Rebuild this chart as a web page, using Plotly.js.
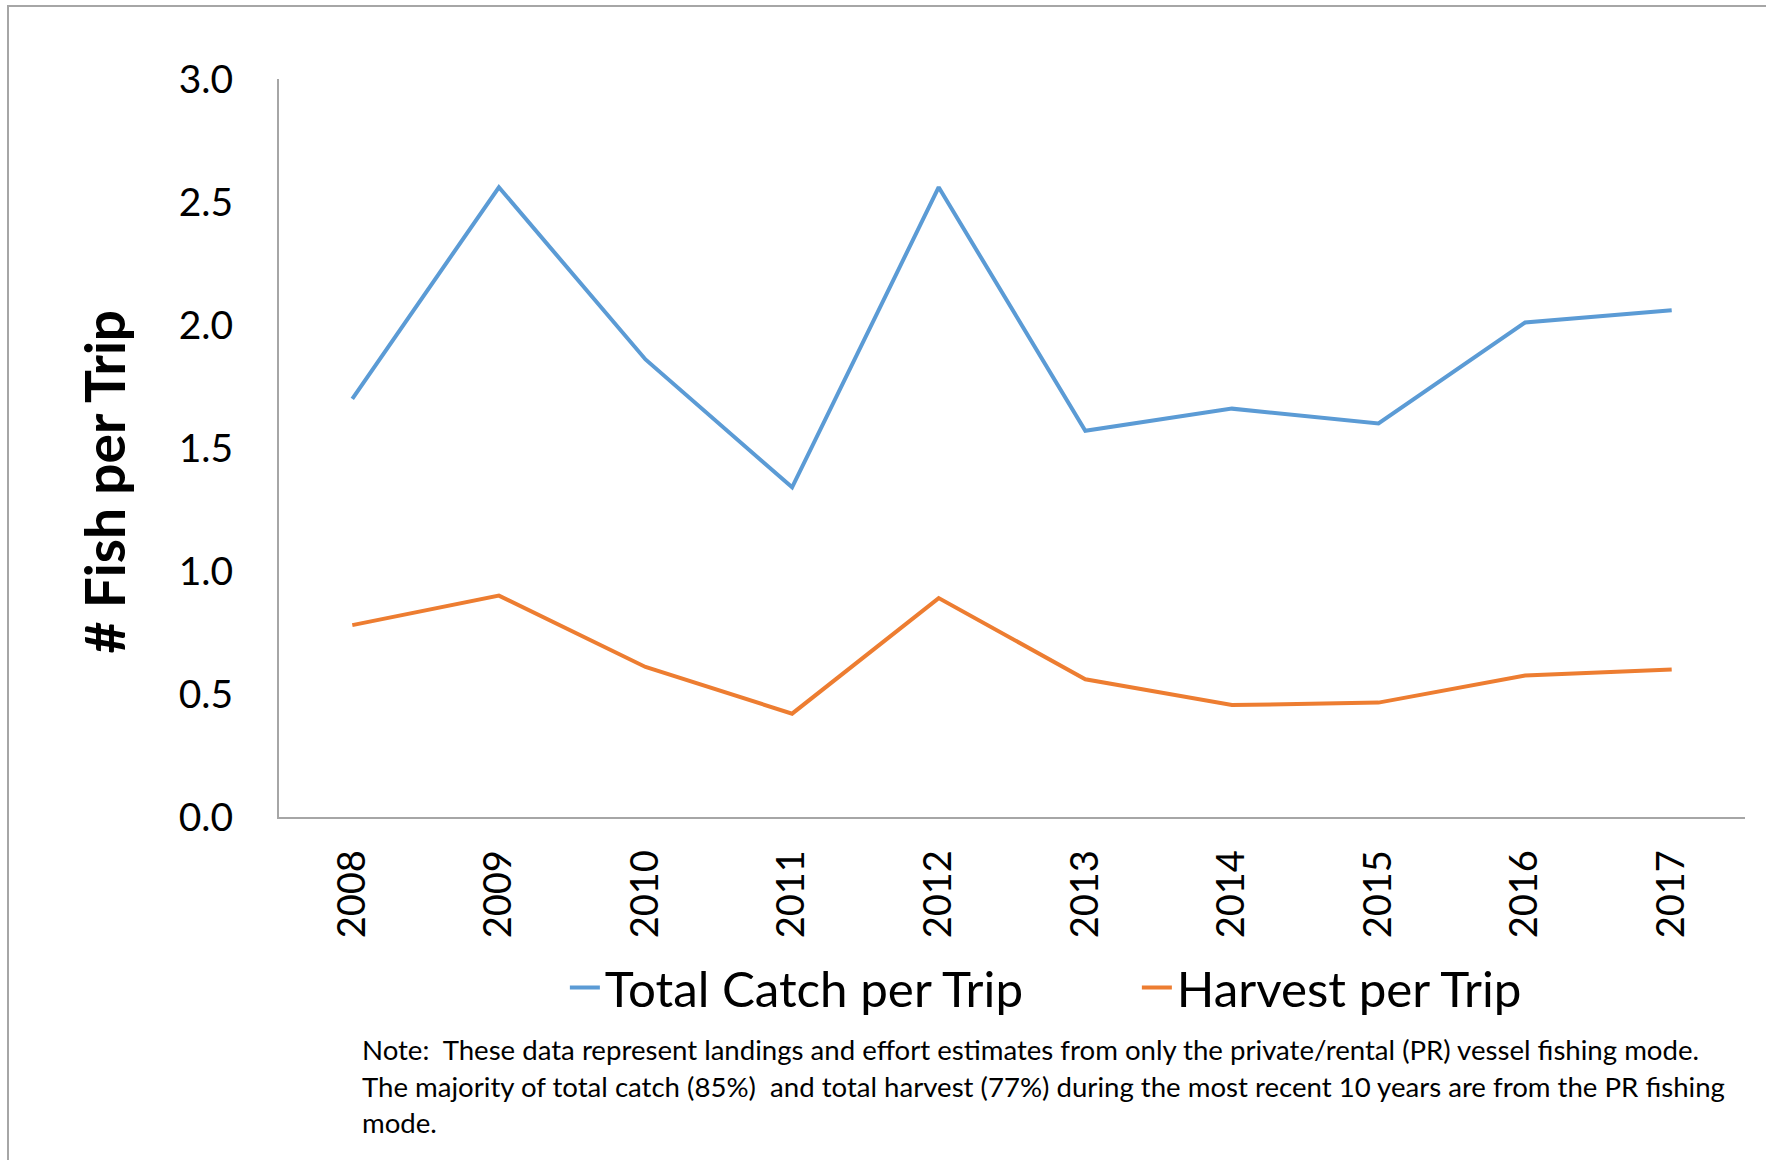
<!DOCTYPE html>
<html>
<head>
<meta charset="utf-8">
<script src="https://cdn.plot.ly/plotly-3.0.1.min.js"></script>
<style>
  html, body { margin: 0; padding: 0; background: #ffffff; overflow: hidden; }
  #chart { width: 1766px; height: 1160px; position: absolute; left: 0; top: 0; }
  #frame { position: absolute; left: 7px; top: 5px; width: 2000px; height: 2000px;
           border: 2px solid #a6a6a6; pointer-events: none; box-sizing: border-box; }
</style>
</head>
<body>
<div id="chart"></div>
<div id="frame"></div>
<script>
// ---- data ----
const years = ["2008", "2009", "2010", "2011", "2012", "2013", "2014", "2015", "2016", "2017"];
const totalCatchPerTrip = [1.70, 2.56, 1.86, 1.34, 2.56, 1.57, 1.66, 1.60, 2.01, 2.06];
const harvestPerTrip    = [0.78, 0.90, 0.61, 0.42, 0.89, 0.56, 0.455, 0.465, 0.575, 0.60];
const yTickVals = [0, 0.5, 1.0, 1.5, 2.0, 2.5, 3.0];
const yTickText = ["0.0", "0.5", "1.0", "1.5", "2.0", "2.5", "3.0"];
const seriesNames = ["Total Catch per Trip", "Harvest per Trip"];
const yTitle = "# Fish per Trip";
const noteLines = [
  "Note:  These data represent landings and effort estimates from only the private/rental (PR) vessel fishing mode.",
  "The majority of total catch (85%)  and total harvest (77%) during the most recent 10 years are from the PR fishing",
  "mode."
];

const FONT = "Lato, 'Open Sans', sans-serif";

const traces = [
  { x: years, y: totalCatchPerTrip, name: seriesNames[0], type: "scatter", mode: "lines",
    line: { color: "#5B9BD5", width: 4 } },
  { x: years, y: harvestPerTrip, name: seriesNames[1], type: "scatter", mode: "lines",
    line: { color: "#ED7D31", width: 4 } }
];

const noteY = [-0.3144, -0.3645, -0.4133];
const annotations = noteLines.map((t, i) => ({
  text: t, xref: "paper", yref: "paper", x: 0.0552, y: noteY[i],
  xanchor: "left", yanchor: "middle", showarrow: false, align: "left",
  font: { family: FONT, size: 27.6, color: "#000000" }
}));
// y-axis title (placed as in the original, slightly below the plot's centre)
annotations.push({
  text: "<b>" + yTitle + "</b>", xref: "paper", yref: "paper", x: -0.12, y: 0.4546,
  xanchor: "center", yanchor: "middle", textangle: -90, showarrow: false,
  font: { family: FONT, size: 55, color: "#000000" }
});

const layout = {
  width: 1766, height: 1160,
  margin: { l: 279, r: 21, t: 79, b: 343, pad: 0 },
  paper_bgcolor: "rgba(0,0,0,0)",
  plot_bgcolor: "rgba(0,0,0,0)",
  font: { family: FONT, color: "#000000" },
  showlegend: true,
  legend: {
    orientation: "h", x: 0.195, xanchor: "left", y: -0.2317, yanchor: "middle",
    font: { family: FONT, size: 49.3, color: "#000000" },
    entrywidth: 527, entrywidthmode: "pixels", bgcolor: "rgba(0,0,0,0)"
  },
  xaxis: {
    type: "category", range: [-0.5, 9.5],
    showline: true, linecolor: "#a6a6a6", linewidth: 2,
    showgrid: false, zeroline: false, ticks: "",
    tickangle: -90, ticklabelstandoff: 16,
    tickfont: { family: FONT, size: 38, color: "#000000" }
  },
  yaxis: {
    range: [0, 3], tickvals: yTickVals, ticktext: yTickText,
    showline: true, linecolor: "#a6a6a6", linewidth: 2,
    showgrid: false, zeroline: false, ticks: "",
    ticklabelstandoff: 36,
    tickfont: { family: FONT, size: 39, color: "#000000" }
  },
  annotations: annotations
};

Plotly.newPlot("chart", traces, layout, { displayModeBar: false, staticPlot: true });
</script>
</body>
</html>
